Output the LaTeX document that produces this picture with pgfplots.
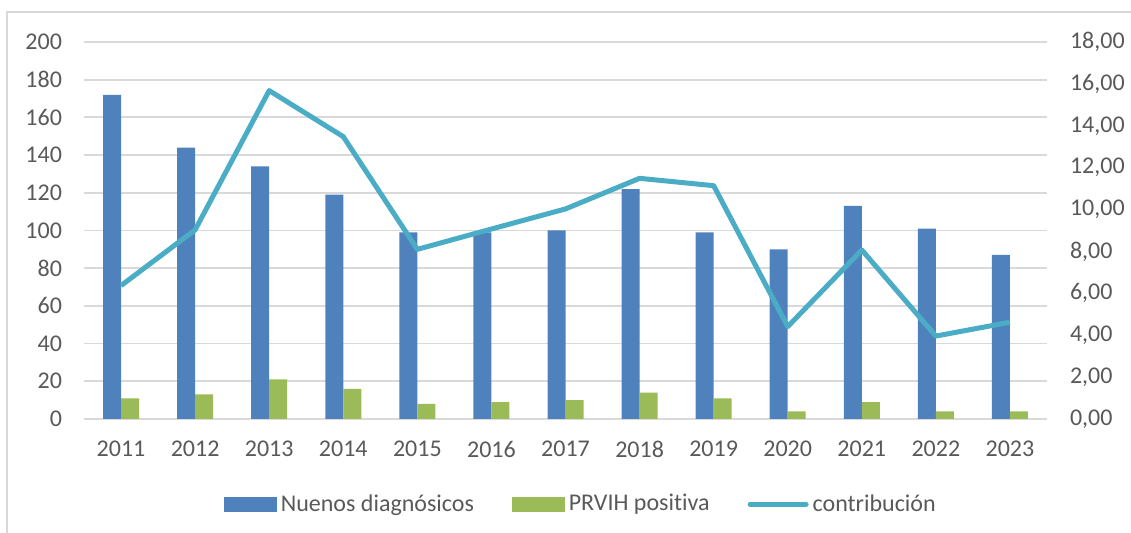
\documentclass[border=0pt]{standalone}
\usepackage{pgfplots}
\pgfplotsset{compat=1.18}
\usepackage{fontspec}
\setmainfont{Carlito}[RawFeature={-liga;-dlig}]
\definecolor{cblue}{HTML}{4F81BD}
\definecolor{cgreen}{HTML}{9BBB59}
\definecolor{cline}{HTML}{4BACC6}
\definecolor{cgrid}{HTML}{D9D9D9}
\definecolor{ctext}{HTML}{595959}
\begin{document}
\begin{tikzpicture}
\path[use as bounding box] (0,0) rectangle (565.5pt,266.5pt);
\draw[cgrid, line width=1pt] (3.5pt,0) -- (3.5pt,260.5pt) -- (565.5pt,260.5pt);
\pgfplotsset{
 common/.style={
  at={(42pt,57pt)}, anchor=south west,
  scale only axis, width=481.5pt, height=188.5pt,
  xmin=-0.5, xmax=12.5, ymin=0,
  axis line style={draw=none},
  major tick length=0pt,
  tick label style={font=\fontsize{12}{14}\selectfont, text=ctext},
  /pgf/number format/assume math mode=true,
 }
}
\begin{axis}[common, ymax=200, ytick={0,20,...,200}, ymajorgrids,
 grid style={cgrid, line width=0.9pt},
 xtick={0,...,12},
 xticklabels={2011,2012,2013,2014,2015,2016,2017,2018,2019,2020,2021,2022,2023},
 ybar=0pt, bar width=9pt,
 yticklabel style={xshift=-7.5pt}, xticklabel style={yshift=-7.5pt},
 /pgf/number format/1000 sep={}]
\addplot[fill=cblue, draw=none] coordinates {(0,172) (1,144) (2,134) (3,119) (4,99) (5,99) (6,100) (7,122) (8,99) (9,90) (10,113) (11,101) (12,87)};
\addplot[fill=cgreen, draw=none] coordinates {(0,11) (1,13) (2,21) (3,16) (4,8) (5,9) (6,10) (7,14) (8,11) (9,4) (10,9) (11,4) (12,4)};
\end{axis}
\begin{axis}[common, ymax=18, ytick={0,2,...,18}, axis y line*=right, axis x line=none,
 yticklabel style={xshift=8pt, /pgf/number format/.cd, fixed, fixed zerofill, precision=2, use comma},
 legend style={at={(rel axis cs:0.517,-0.226)}, anchor=center, draw=none, fill=none,
   legend columns=3, font=\fontsize{12}{14}\selectfont, text=ctext,
   /tikz/every even column/.append style={column sep=17pt}},
 ]
\addlegendimage{legend image code/.code={\fill[cblue] (0pt,-3.5pt) rectangle (26pt,3.5pt);}}
\addlegendentry{Nuenos diagnósicos}
\addlegendimage{legend image code/.code={\fill[cgreen] (0pt,-3.5pt) rectangle (26pt,3.5pt);}}
\addlegendentry{PRVIH positiva}
\addplot[cline, line width=2.5pt, line join=round, mark=none,
 legend image code/.code={\draw[cline, line width=2.5pt, line cap=round] (0pt,0pt) -- (28pt,0pt);}]
 coordinates {(0,6.37) (1,9.03) (2,15.68) (3,13.48) (4,8.10) (5,9.07) (6,10.03) (7,11.49) (8,11.14) (9,4.41) (10,8.07) (11,3.96) (12,4.62)};
\addlegendentry{contribución}
\end{axis}
\end{tikzpicture}
\end{document}
